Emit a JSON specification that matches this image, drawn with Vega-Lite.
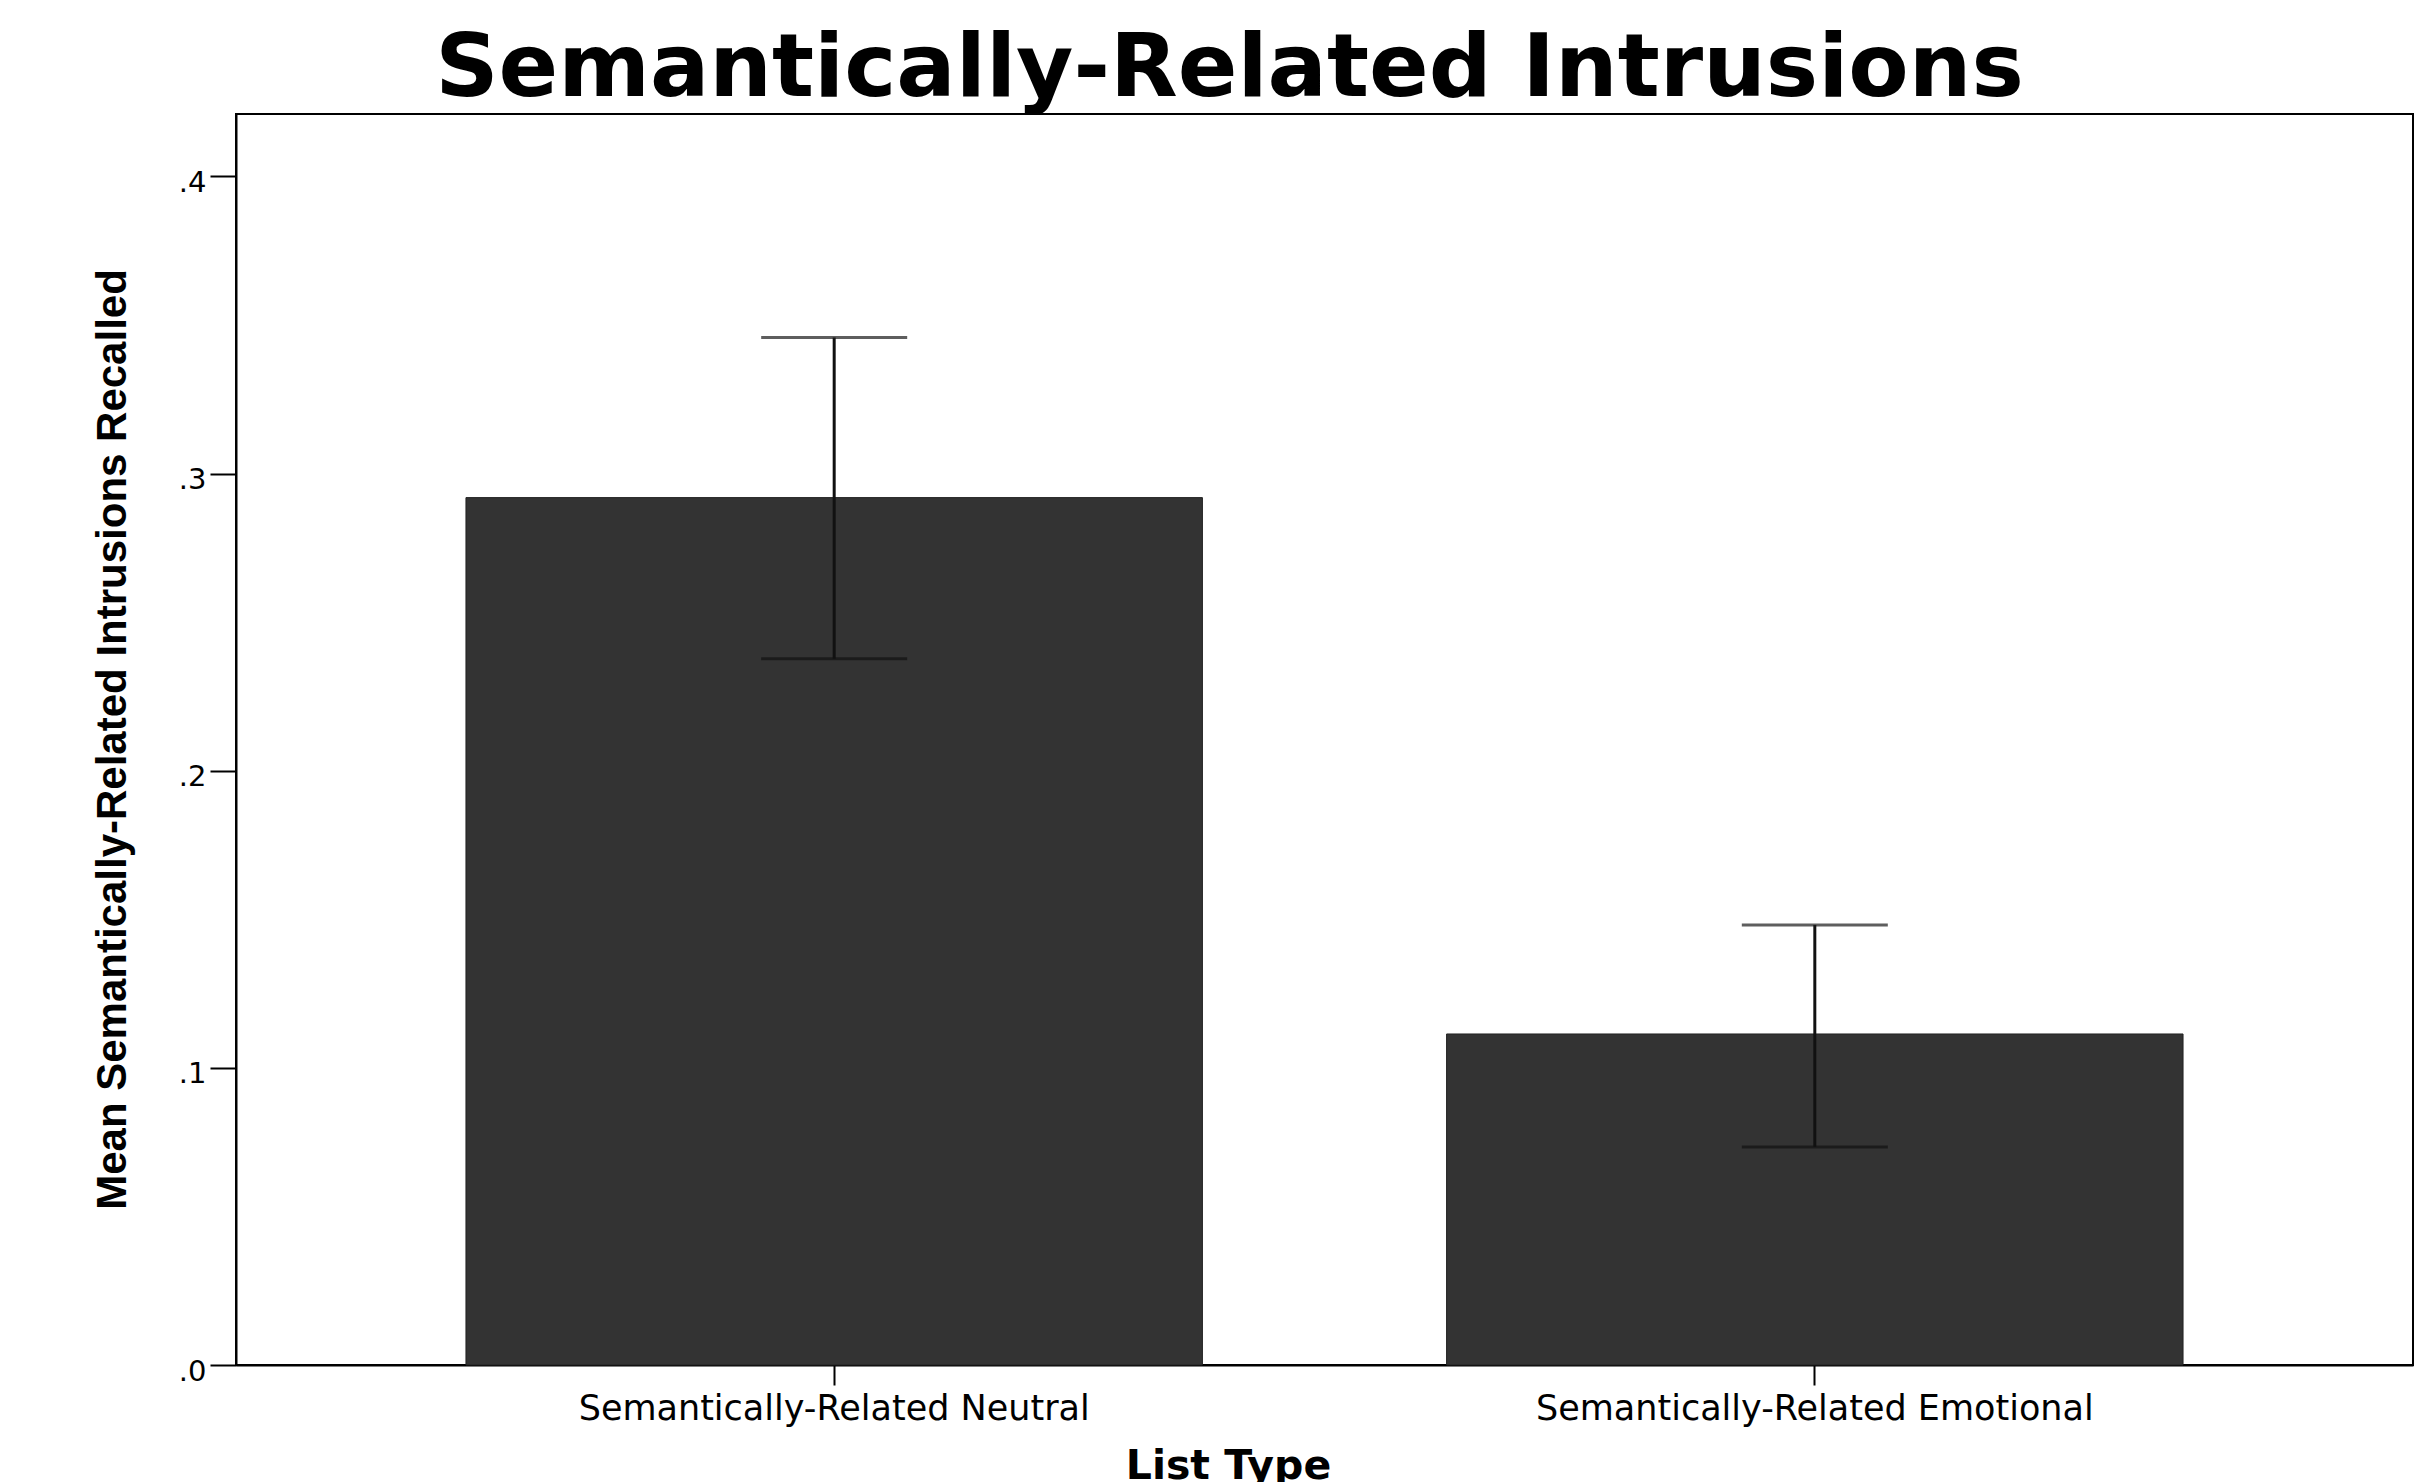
{
  "$schema": "https://vega.github.io/schema/vega-lite/v6.json",
  "autosize": {"type": "none"},
  "padding": {"left": 236, "top": 114, "right": 9, "bottom": 117},
  "width": 2177,
  "height": 1251,
  "background": "white",
  "title": {
    "text": "Semantically-Related Intrusions",
    "font": "DejaVu Sans",
    "fontWeight": "bold",
    "fontSize": 88,
    "color": "#000000",
    "anchor": "middle",
    "baseline": "alphabetic",
    "offset": 16,
    "dx": -95,
    "dy": 86
  },
  "data": {
    "values": [
      {"ListType": "Semantically-Related Neutral", "mean": 0.2919, "lower": 0.2377, "upper": 0.3458},
      {"ListType": "Semantically-Related Emotional", "mean": 0.1114, "lower": 0.0734, "upper": 0.1481}
    ]
  },
  "config": {
    "view": {"stroke": "#000000", "strokeWidth": 2}
  },
  "encoding": {
    "x": {
      "field": "ListType",
      "type": "nominal",
      "sort": null,
      "scale": {"paddingInner": 0.249, "paddingOuter": 0.2345},
      "axis": {
        "title": "List Type",
        "titleFont": "DejaVu Sans",
        "titleFontWeight": "bold",
        "titleFontSize": 41,
        "titleColor": "#000000",
        "titleX": 992,
        "titleY": 113,
        "titleAlign": "center",
        "titleBaseline": "alphabetic",
        "labelAngle": 0,
        "labelLimit": 0,
        "labelFont": "DejaVu Sans",
        "labelFontSize": 35,
        "labelColor": "#000000",
        "labelPadding": 6,
        "tickSize": 20,
        "tickWidth": 2,
        "tickColor": "#000000",
        "domainColor": "#000000",
        "domainWidth": 2,
        "grid": false
      }
    }
  },
  "layer": [
    {
      "mark": {"type": "bar", "color": "#333333", "stroke": "#222222", "strokeWidth": 1},
      "encoding": {
        "y": {
          "field": "mean",
          "type": "quantitative",
          "scale": {"domain": [0, 0.421], "nice": false, "zero": true},
          "axis": {
            "title": "Mean Semantically-Related Intrusions Recalled",
            "titleFont": "Liberation Sans",
            "titleFontWeight": "bold",
            "titleFontSize": 42,
            "titleColor": "#000000",
            "titleX": -111,
            "titleY": 625,
            "titleAngle": -90,
            "titleAlign": "center",
            "titleBaseline": "alphabetic",
            "titleLimit": 0,
            "values": [0, 0.1, 0.2, 0.3, 0.4],
            "labelExpr": "replace(format(datum.value, '.1f'), '0.', '.')",
            "labelFont": "DejaVu Sans",
            "labelFontSize": 29,
            "labelColor": "#000000",
            "labelPadding": 4,
            "labelOffset": 6,
            "labelBaseline": "middle",
            "tickSize": 26,
            "tickWidth": 2,
            "tickColor": "#000000",
            "domainColor": "#000000",
            "domainWidth": 2,
            "grid": false
          }
        }
      }
    },
    {
      "mark": {"type": "rule", "color": "#111111", "strokeWidth": 3},
      "encoding": {
        "y": {"field": "lower", "type": "quantitative"},
        "y2": {"field": "upper"}
      }
    },
    {
      "mark": {"type": "tick", "color": "#1a1a1a", "size": 146, "thickness": 3},
      "encoding": {
        "y": {"field": "upper", "type": "quantitative"}
      }
    },
    {
      "mark": {"type": "tick", "color": "#111111", "size": 146, "thickness": 3},
      "encoding": {
        "y": {"field": "lower", "type": "quantitative"}
      }
    }
  ]
}
